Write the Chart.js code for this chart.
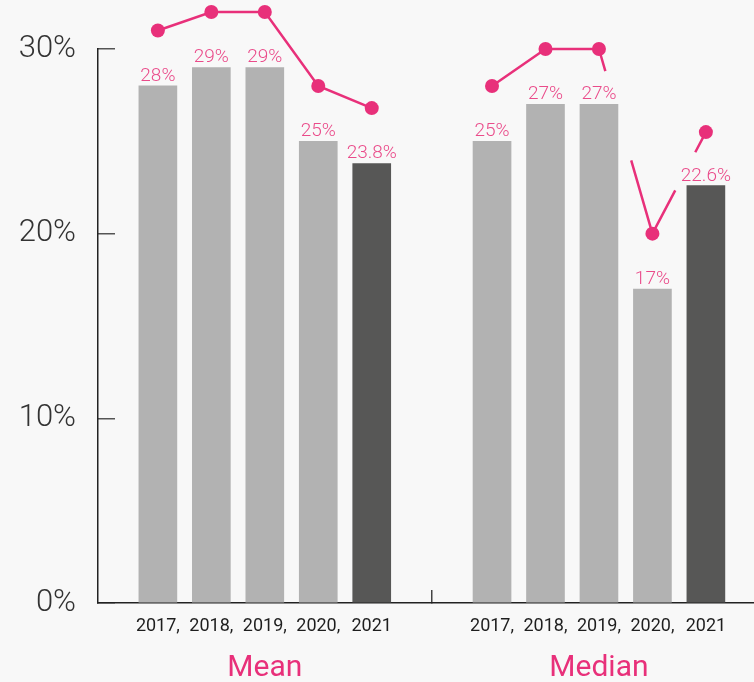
<!DOCTYPE html>
<html>
<head>
<meta charset="utf-8">
<script src="https://cdn.jsdelivr.net/npm/chart.js@4"></script>
<style>
  html, body { margin: 0; padding: 0; background: #f8f8f8; }
  #wrap { width: 754px; height: 682px; }
</style>
</head>
<body>
<div id="wrap"><canvas id="myChart" width="754" height="682"></canvas></div>
<script>
const years = ['2017', '2018', '2019', '2020', '2021']
const xTickLabels = ['2017,', '2018,', '2019,', '2020,', '2021']
const groups = ['Mean', 'Median']
const meanBars = [28, 29, 29, 25, 23.8]
const medianBars = [25, 27, 27, 17, 22.6]
const meanLine = [31, 32, 32, 28, 26.8]
const medianLine = [28, 30, 30, 20, 25.5]
const yTicks = [0, 10, 20, 30]

const pink = '#e8307a'
const labelPink = '#ea4b8a'
const lightBar = '#b2b2b2'
const darkBar = '#575756'

// where each group starts on the x scale, and the little separator between them
const groupStart = [0, 6.25]
const sepPos = 5.125

const barPoints = []
const barColors = []
const barLabels = []
const allBars = [meanBars, medianBars]
allBars.forEach((vals, g) => {
    vals.forEach((v, i) => {
        barPoints.push({ x: groupStart[g] + i, y: v })
        barColors.push(i === vals.length - 1 ? darkBar : lightBar)
        barLabels.push(v + '%')
    })
})
const meanPoints = meanLine.map((v, i) => ({ x: groupStart[0] + i, y: v }))
const medianPoints = medianLine.map((v, i) => ({ x: groupStart[1] + i, y: v }))

const xTicks = []
const xTickText = {}
groupStart.forEach(start => {
    years.forEach((y, i) => {
        xTicks.push(start + i)
        xTickText[start + i] = xTickLabels[i]
    })
})
xTicks.push(sepPos)
xTickText[sepPos] = ''

const groupTicks = groupStart.map(s => s + 2)

// the pink dots sit above 30%, so let the datasets draw above the plot top
const roomAbove = {
    id: 'roomAbove',
    beforeDatasetsDraw(chart) {
        chart._savedTop = chart.chartArea.top
        chart.chartArea.top = 0
    },
    afterDatasetsDraw(chart) {
        chart.chartArea.top = chart._savedTop
    }
}

const valueLabels = {
    id: 'valueLabels',
    afterDatasetsDraw(chart) {
        const ctx = chart.ctx
        const meta = chart.getDatasetMeta(2)
        ctx.save()
        ctx.font = '300 19px Roboto'
        ctx.fillStyle = labelPink
        ctx.textAlign = 'center'
        ctx.textBaseline = 'alphabetic'
        meta.data.forEach((bar, i) => {
            ctx.fillText(barLabels[i], bar.x, bar.y - 5)
        })
        ctx.restore()
    }
}

const noEdgePad = s => {
    s.paddingLeft = 0
    s.paddingRight = 0
    s.paddingTop = 0
    s.paddingBottom = 0
}

const ctx = document.getElementById('myChart').getContext('2d')
const myChart = new Chart(ctx, {
    data: {
        datasets: [
            {
                type: 'line',
                data: meanPoints,
                borderColor: pink,
                backgroundColor: pink,
                borderWidth: 2.5,
                pointRadius: 7,
                pointBorderWidth: 0,
                clip: false,
                order: 1
            },
            {
                type: 'line',
                data: medianPoints,
                borderColor: pink,
                backgroundColor: pink,
                borderWidth: 2.5,
                pointRadius: 7,
                pointBorderWidth: 0,
                clip: false,
                order: 1,
                segment: {
                    borderDash: c => c.p0DataIndex === 2 ? [23, 93, 400] : (c.p0DataIndex === 3 ? [49, 43, 400] : undefined)
                }
            },
            {
                type: 'bar',
                data: barPoints,
                backgroundColor: barColors,
                barThickness: 38,
                order: 2
            }
        ]
    },
    options: {
        responsive: false,
        animation: false,
        layout: { autoPadding: false, padding: { top: 49, left: 0, right: 0, bottom: 0 } },
        plugins: {
            legend: { display: false },
            tooltip: { enabled: false }
        },
        scales: {
            x: {
                type: 'linear',
                position: 'bottom',
                weight: 0,
                offset: false,
                min: -1.12,
                max: 11.15,
                afterBuildTicks: s => { s.ticks = xTicks.map(v => ({ value: v })) },
                afterFit: s => { s.height = 40; noEdgePad(s) },
                ticks: {
                    autoSkip: false,
                    maxRotation: 0,
                    padding: 26,
                    color: '#1e1e1e',
                    font: { family: 'Roboto', size: 18 },
                    callback: v => xTickText[v]
                },
                grid: {
                    offset: false,
                    drawOnChartArea: false,
                    tickLength: -13,
                    lineWidth: 1.5,
                    color: c => (c.tick && c.tick.value === sepPos) ? '#444' : 'rgba(0,0,0,0)'
                },
                border: { color: '#222', width: 1.5 }
            },
            x2: {
                type: 'linear',
                position: 'bottom',
                weight: 1,
                offset: false,
                min: -1.12,
                max: 11.15,
                afterBuildTicks: s => { s.ticks = groupTicks.map(v => ({ value: v })) },
                afterFit: s => { s.height = 39; noEdgePad(s) },
                ticks: {
                    autoSkip: false,
                    maxRotation: 0,
                    padding: -1,
                    color: pink,
                    font: { family: 'Roboto', size: 30 },
                    callback: (v, i) => groups[i]
                },
                grid: { display: false, offset: false },
                border: { display: false }
            },
            y: {
                min: 0,
                max: 30,
                afterBuildTicks: s => { s.ticks = yTicks.map(v => ({ value: v })) },
                afterFit: s => { s.width = 98; noEdgePad(s) },
                ticks: {
                    padding: 39,
                    color: '#333',
                    font: { family: 'Roboto', size: 31, weight: 300 },
                    callback: v => v + '%'
                },
                grid: {
                    drawOnChartArea: false,
                    tickLength: -17,
                    lineWidth: 1.5,
                    color: '#555'
                },
                border: { color: '#222', width: 1.5 }
            }
        }
    },
    plugins: [roomAbove, valueLabels]
})
</script>
</body>
</html>
